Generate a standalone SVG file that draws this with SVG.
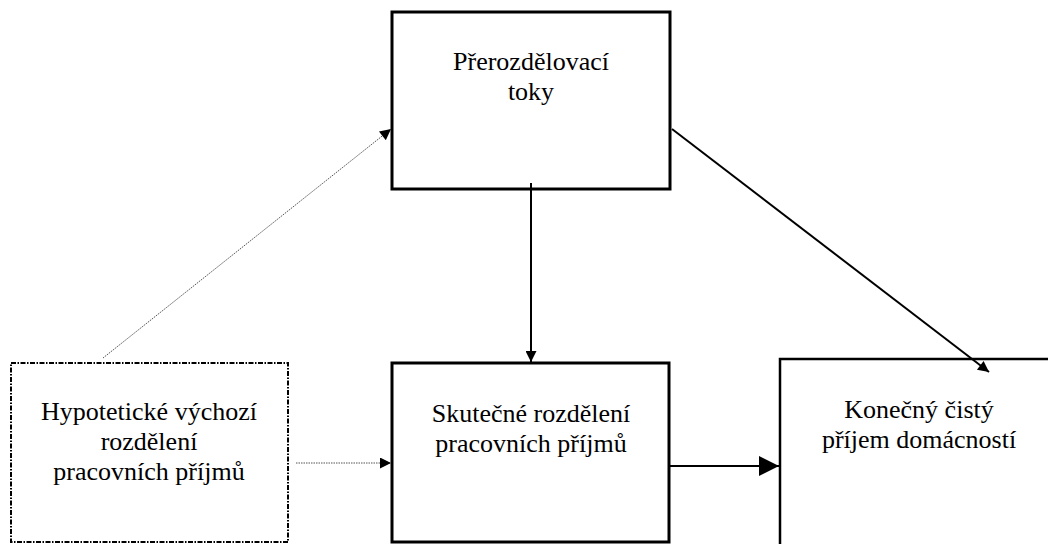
<svg xmlns="http://www.w3.org/2000/svg" width="1048" height="544" viewBox="0 0 1048 544">
<style>
.box{fill:#fff;stroke:#000;stroke-width:3}
.dbox{fill:#fff;stroke:#000;stroke-width:2;stroke-dasharray:5 1.5 1.5 1.5}
text{font-family:'Liberation Serif','Times New Roman',Times,serif;font-size:26px;fill:#000;text-anchor:middle}
.solid{stroke:#000;stroke-width:2;fill:none}
.dot{stroke:#555;stroke-width:1;stroke-dasharray:1.5 1;fill:none}
</style>
<defs>
<marker id="ah" viewBox="0 0 10 10" refX="10" refY="5" markerWidth="14" markerHeight="11" markerUnits="userSpaceOnUse" orient="auto"><path d="M0,0L10,5L0,10z" fill="#000"/></marker>
<marker id="ahbig" viewBox="0 0 10 10" refX="10" refY="5" markerWidth="20" markerHeight="20" markerUnits="userSpaceOnUse" orient="auto"><path d="M0,0L10,5L0,10z" fill="#000"/></marker>
</defs>
<rect width="1048" height="544" fill="#fff"/>
<g id="n-prerozdelovaci">
<rect class="box" x="392" y="12" width="278" height="177"/>
<text x="531" y="70" font-family="Liberation Serif">Přerozdělovací</text>
<text x="531" y="100" font-family="Liberation Serif">toky</text>
</g>
<g id="n-hypoteticke">
<rect class="dbox" x="11" y="363" width="277" height="179"/>
<text x="149" y="420" font-family="Liberation Serif">Hypotetické výchozí</text>
<text x="149" y="450" font-family="Liberation Serif">rozdělení</text>
<text x="149" y="480" font-family="Liberation Serif">pracovních příjmů</text>
</g>
<g id="n-skutecne">
<rect class="box" x="392" y="363" width="277" height="179"/>
<text x="531" y="422" font-family="Liberation Serif">Skutečné rozdělení</text>
<text x="531" y="452" font-family="Liberation Serif">pracovních příjmů</text>
</g>
<g id="n-konecny">
<rect class="box" x="780" y="359" width="280" height="200" style="stroke-width:2.5"/>
<text x="919" y="418" font-family="Liberation Serif">Konečný čistý</text>
<text x="919" y="448" font-family="Liberation Serif">příjem domácností</text>
</g>
<g id="connectors">
<line class="dot" x1="103" y1="358" x2="391" y2="129" marker-end="url(#ah)"/>
<line class="dot" x1="296" y1="463" x2="391" y2="463" marker-end="url(#ah)"/>
<line class="solid" x1="531" y1="183" x2="531" y2="362" marker-end="url(#ah)"/>
<line class="solid" x1="672" y1="129" x2="989" y2="372" marker-end="url(#ah)"/>
<line class="solid" x1="670" y1="466" x2="779" y2="466" marker-end="url(#ahbig)"/>
</g>
</svg>
